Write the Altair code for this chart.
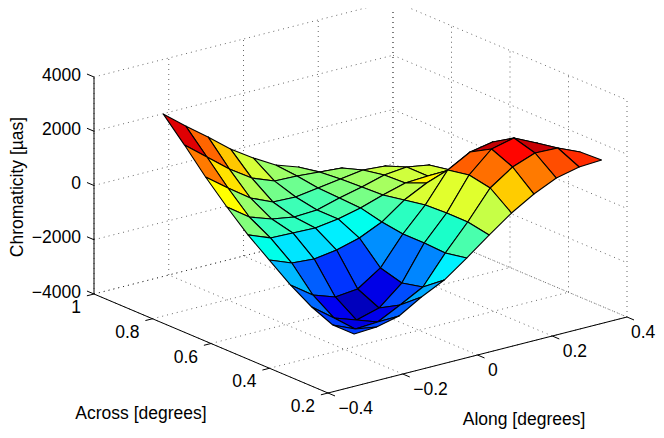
import altair as alt
import pandas as pd

ALONG = [-0.330, -0.270, -0.210, -0.150, -0.089, -0.029, 0.031, 0.091, 0.151, 0.211, 0.272, 0.332]
ACROSS = [0.853, 0.780, 0.708, 0.635, 0.563, 0.490, 0.418, 0.345, 0.273, 0.200]
Z = [
    [3064, 2412, 1796, 1143, 598, 129, -154, -549, -907, -1264, -1662, -2057],
    [2249, 1597, 944, 402, 78, 52, -11, -73, -542, -862, -1150, -1655],
    [1401, 786, 207, -151, -180, -59, 63, 185, 122, -309, -671, -1323],
    [627, 48, -236, -372, -328, -95, 100, 332, 417, 281, -413, -1065],
    [-73, -394, -420, -446, -328, -132, 137, 369, 417, 428, 30, -549],
    [-667, -988, -1050, -929, -700, -320, 281, 697, 966, 1125, 727, 148],
    [-1257, -1836, -2120, -2035, -1474, -431, 428, 1508, 1962, 2120, 1427, 848],
    [-1736, -2352, -2636, -2404, -1696, -431, 465, 1656, 2404, 2600, 2201, 1475],
    [-2072, -2429, -2381, -1965, -1515, -472, 461, 1505, 2069, 2375, 2345, 1988],
    [-2072, -2024, -1828, -1338, -925, -324, 314, 915, 1405, 1785, 1977, 2025],
]
ALONG_TICKS = [-0.4, -0.2, 0, 0.2, 0.4]
ACROSS_TICKS = [0.2, 0.4, 0.6, 0.8, 1]
Z_TICKS = [-4000, -2000, 0, 2000, 4000]
JET = ["#00007f", "#0000ff", "#007fff", "#00ffff", "#7fff7f", "#ffff00", "#ff7f00", "#ff0000", "#7f0000"]
CLIM = (-3000, 2800)


def sx(a, c, z):
    return 94 + 299 * (a + 0.4) / 0.8 + 234 * (1 - c) / 0.8


def sy(a, c, z):
    return 294 - 76 * (a + 0.4) / 0.8 + 99 * (1 - c) / 0.8 - (z + 4000) * 217 / 8000


X = alt.X("x:Q", axis=None, scale=alt.Scale(domain=[8, 656], nice=False, zero=False))
Y = alt.Y("y:Q", axis=None, scale=alt.Scale(domain=[8, 430], reverse=True, nice=False, zero=False))


def segs(lines):
    rows = []
    for n, (p, q) in enumerate(lines):
        for k, pt in enumerate((p, q)):
            rows.append(dict(id=n, k=k, x=sx(*pt), y=sy(*pt)))
    return pd.DataFrame(rows)


grid = []
for a in ALONG_TICKS:
    grid.append(((a, 0.2, -4000), (a, 1, -4000)))
    grid.append(((a, 1, -4000), (a, 1, 4000)))
for c in ACROSS_TICKS:
    grid.append(((-0.4, c, -4000), (0.4, c, -4000)))
    grid.append(((0.4, c, -4000), (0.4, c, 4000)))
for z in Z_TICKS:
    grid.append(((-0.4, 1, z), (0.4, 1, z)))
    grid.append(((0.4, 1, z), (0.4, 0.2, z)))

axes = [
    ((-0.4, 1, -4000), (-0.4, 1, 4000)),
    ((-0.4, 1, -4000), (-0.4, 0.2, -4000)),
    ((-0.4, 0.2, -4000), (0.4, 0.2, -4000)),
]
for a in ALONG_TICKS:
    axes.append(((a, 0.2, -4000), (a, 0.2 - 0.024, -4000)))
for c in ACROSS_TICKS:
    axes.append(((-0.4, c, -4000), (-0.4 - 0.019, c, -4000)))
for z in Z_TICKS:
    axes.append(((-0.4, 1, z), (-0.4, 1 + 0.024, z)))


def line_layer(lines, **kw):
    return alt.Chart(segs(lines)).mark_line(**kw).encode(
        x=X, y=Y, detail="id:N", order="k:Q"
    )


grid_layer = line_layer(grid, color="#000000", strokeWidth=0.6, strokeDash=[1, 4])
axis_layer = line_layer(axes, color="#000000", strokeWidth=1)

cells = []
for j in range(len(ACROSS) - 1):
    for i in range(len(ALONG) - 1):
        corners = [(i, j), (i + 1, j), (i + 1, j + 1), (i, j + 1), (i, j)]
        depth = sum(
            sy(ALONG[m], ACROSS[n], -4000) for m, n in corners[:4]
        )
        for k, (m, n) in enumerate(corners):
            z = Z[n][m]
            cells.append(
                dict(
                    cell=f"{i}_{j}",
                    k=k,
                    depth=depth,
                    x=sx(ALONG[m], ACROSS[n], z),
                    y=sy(ALONG[m], ACROSS[n], z),
                    c=Z[j + 1][i],
                )
            )
cells = pd.DataFrame(cells).sort_values(["depth", "cell", "k"], kind="stable")
step = (CLIM[1] - CLIM[0]) / (len(JET) - 1)
surface = alt.Chart(cells).mark_line(strokeWidth=1.1, strokeJoin="round").encode(
    x=X,
    y=Y,
    detail="cell:N",
    order="k:Q",
    stroke=alt.value("#000000"),
    fill=alt.Fill(
        "c:Q",
        legend=None,
        scale=alt.Scale(domain=[CLIM[0] + step * n for n in range(len(JET))], range=JET),
    ),
)

FONT = "Liberation Sans"
FS = 17.5
RIGHT_LIMIT = 631


def fmt(v):
    return str(v).replace("-", "\u2212")


labels = []
for z in Z_TICKS:
    labels.append(dict(x=sx(-0.4, 1, z) - 13, y=sy(-0.4, 1, z) - 1.5, t=fmt(z), al="right"))
for c in ACROSS_TICKS:
    labels.append(dict(x=sx(-0.4, c, -4000) - 13, y=sy(-0.4, c, -4000) + 14, t=fmt(c), al="right"))
for a in ALONG_TICKS:
    labels.append(dict(x=min(sx(a, 0.2, -4000) + 10.5, RIGHT_LIMIT), y=sy(a, 0.2, -4000) + 16, t=fmt(a), al="left"))
ldf = pd.DataFrame(labels)
text_layers = [
    alt.Chart(ldf[ldf.al == al]).mark_text(font=FONT, fontSize=FS, align=al, baseline="middle", color="#000000").encode(
        x=X, y=Y, text="t:N"
    )
    for al in ("right", "left")
]
titles = pd.DataFrame(
    [dict(x=141, y=414, t="Across [degrees]"), dict(x=524, y=420, t="Along [degrees]")]
)
title_layer = alt.Chart(titles).mark_text(font=FONT, fontSize=FS, align="center", baseline="middle", color="#000000").encode(
    x=X, y=Y, text="t:N"
)
ztitle = alt.Chart(pd.DataFrame([dict(x=17.5, y=187, t="Chromaticity [\u00b5as]")])).mark_text(
    font=FONT, fontSize=FS, align="center", baseline="middle", angle=270, color="#000000"
).encode(x=X, y=Y, text="t:N")

chart = alt.layer(grid_layer, axis_layer, surface, *text_layers, title_layer, ztitle).properties(
    width=648, height=422, padding=0, autosize=alt.AutoSizeParams(type="none")
).configure_view(stroke=None)

chart.save("out.html", embed_options={"renderer": "svg", "actions": False})
